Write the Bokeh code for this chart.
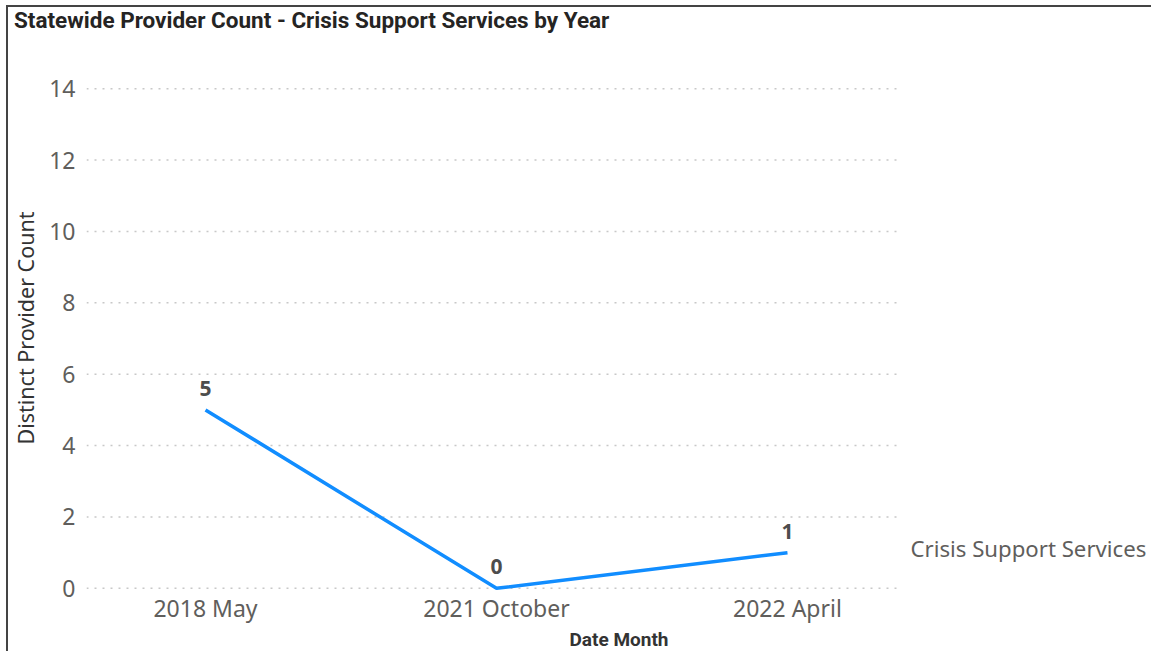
from bokeh.plotting import figure
from bokeh.models import Range1d, FixedTicker, Title, ColumnDataSource, Div
from bokeh.layouts import column
from bokeh.core.properties import value
from bokeh.embed import file_html
from bokeh.resources import INLINE

# ---- data ----
categories = ["2018 May", "2021 October", "2022 April"]
provider_counts = [5, 0, 1]
series_name = "Crisis Support Services"
y_ticks = [0, 2, 4, 6, 8, 10, 12, 14]
chart_title = "Statewide Provider Count - Crisis Support Services by Year"
x_title = "Date Month"
y_title = "Distinct Provider Count"

xs = list(range(len(categories)))
src = ColumnDataSource(dict(x=xs, y=provider_counts,
                            lbl=[str(v) for v in provider_counts]))

X0, X_GRID_END, X1 = -0.409, 2.388, 3.251

TITLE_H = 26
title_div = Div(
    text=('<div style="font-family: Roboto; font-weight: bold; font-size: 22.5px; '
          'color: #252423; line-height: 26px; padding-left: 6px; white-space: nowrap;">'
          + chart_title + '</div>'),
    width=1143, height=TITLE_H, margin=0)

p = figure(width=1143, height=644 - TITLE_H, frame_width=1065, frame_height=535,
           min_border_left=78, min_border_right=0, min_border_top=53 - TITLE_H,
           min_border_bottom=56, output_backend="svg", toolbar_location=None,
           x_range=Range1d(X0, X1), y_range=Range1d(-0.2, 14.79), margin=0)
p.outline_line_color = None
p.background_fill_color = "white"
p.border_fill_color = "white"

# axes
p.xaxis.ticker = FixedTicker(ticks=xs)
p.xaxis.major_label_overrides = {i: c for i, c in enumerate(categories)}
p.yaxis.ticker = FixedTicker(ticks=y_ticks)
for ax in (p.xaxis[0], p.yaxis[0]):
    ax.axis_line_color = None
    ax.major_tick_line_color = None
    ax.minor_tick_line_color = None
    ax.major_tick_out = 0
    ax.major_tick_in = 0
    ax.minor_tick_out = 0
    ax.minor_tick_in = 0
    ax.major_label_text_font = "Noto Sans"
    ax.major_label_text_font_size = "23px"
    ax.major_label_text_color = "#605E5C"
p.xaxis.major_label_standoff = -4
p.yaxis.major_label_standoff = 11
p.yaxis.axis_label = y_title
p.yaxis.axis_label_text_font = "Noto Sans"
p.yaxis.axis_label_text_font_size = "21.5px"
p.yaxis.axis_label_text_font_style = "normal"
p.yaxis.axis_label_text_color = "#333333"
p.yaxis.axis_label_standoff = 6

# x axis title
p.add_layout(Title(text=x_title, align="center", text_font="Roboto",
                   text_font_style="bold", text_font_size="19px",
                   text_color="#333333", standoff=-2), "below")

# grid (dotted, only over the plotting area)
p.xgrid.grid_line_color = None
p.ygrid.grid_line_color = None
p.segment(x0=[X0] * len(y_ticks), x1=[X_GRID_END] * len(y_ticks), y0=y_ticks, y1=y_ticks,
          line_color="#C8C8C8", line_dash="2 6", line_width=1.5)

# series
p.line("x", "y", source=src, line_color="#118DFF", line_width=3.5)
p.text("x", "y", text="lbl", source=src, text_align="center",
       text_baseline="bottom", y_offset=-14, text_font=value("Open Sans"),
       text_font_style="bold", text_font_size="21px", text_color="#4D4D4D")

# series name at the line end
p.text(x=[xs[-1]], y=[provider_counts[-1]], text=[series_name], x_offset=123,
       y_offset=-4, text_align="left", text_baseline="middle",
       text_font=value("Noto Sans"), text_font_size="22.2px", text_color="#605E5C")

layout = column(title_div, p, spacing=0, margin=0)
layout.styles = {"border-top": "2px solid #444444", "border-left": "2px solid #444444",
                 "margin-left": "6px", "margin-top": "5px", "background-color": "white"}

open("out.html", "w").write(file_html(layout, INLINE))
